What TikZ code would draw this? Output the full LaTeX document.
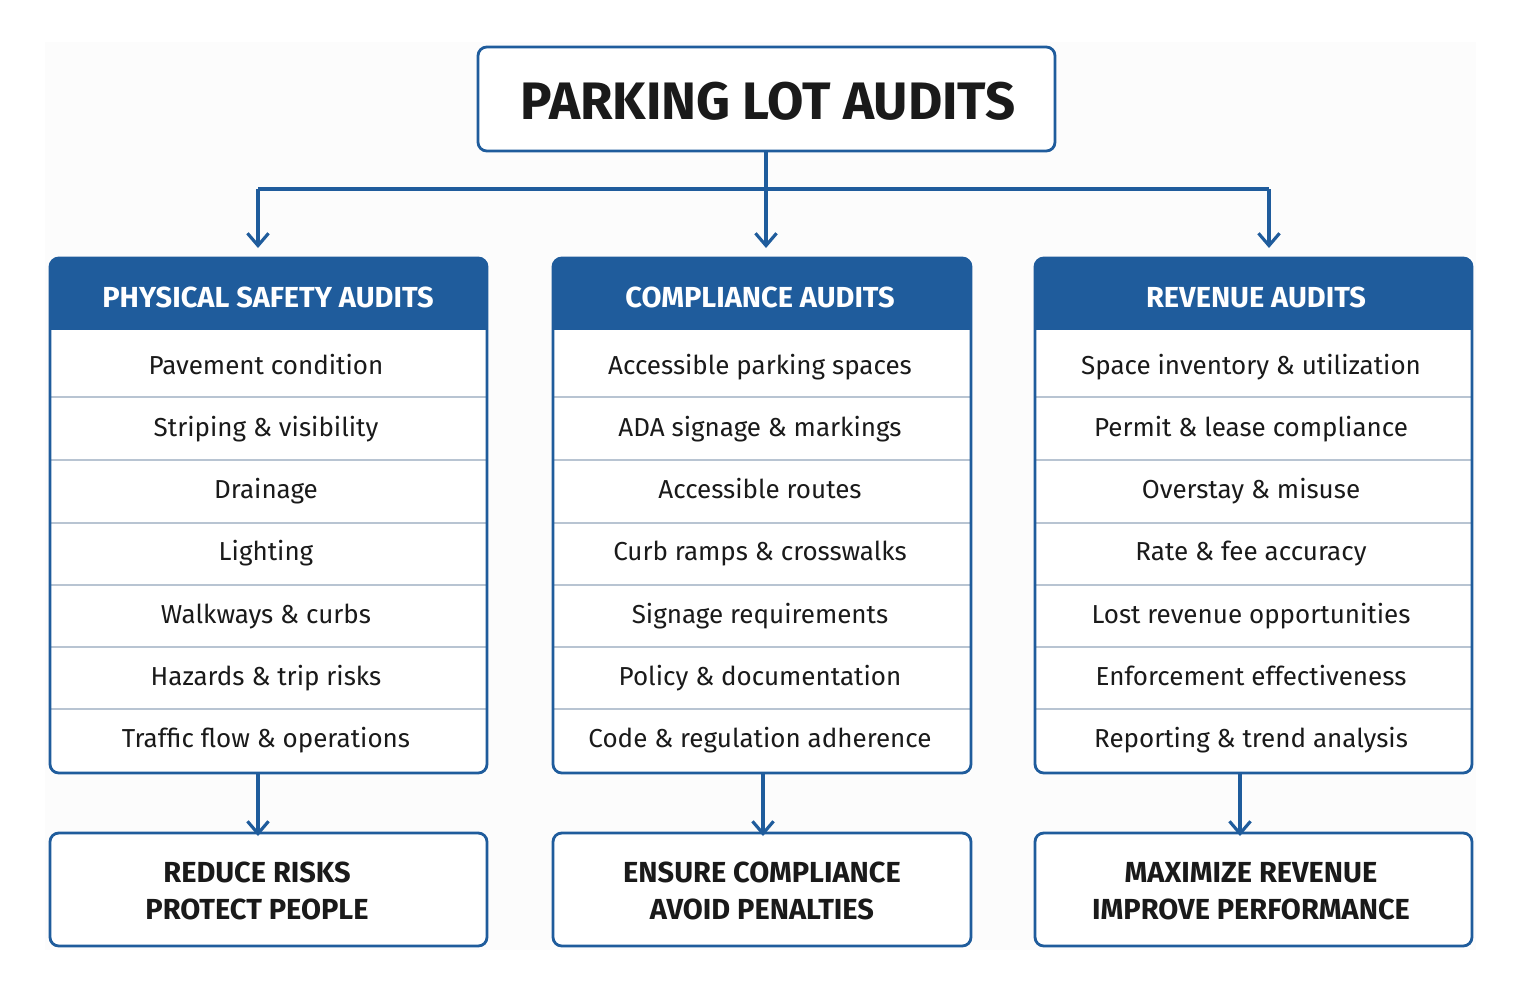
\documentclass[tikz,border=0pt]{standalone}
\usepackage{fontspec}
\setmainfont{Fira Sans}
\usetikzlibrary{arrows.meta,positioning}
\definecolor{auditblue}{HTML}{1F5C9C}
\definecolor{rowline}{HTML}{B8C4D2}
\definecolor{inktext}{HTML}{1A1A1A}
\tikzset{
  box/.style={draw=auditblue, line width=1.6pt, rounded corners=5pt, fill=white},
  head/.style={fill=auditblue, text=white, font=\fontsize{16.5}{20}\selectfont\bfseries, anchor=center},
  item/.style={text=inktext, font=\fontsize{14.8}{18}\selectfont, anchor=center, text height=11pt, text depth=3pt},
  goal/.style={text=inktext, font=\fontsize{16.5}{21}\selectfont\bfseries, align=center, anchor=center},
  link/.style={draw=auditblue, line width=1.8pt, -{Straight Barb[length=7pt,width=12pt,line width=1.8pt]}},
}
\begin{document}
\begin{tikzpicture}[x=0.02cm,y=-0.02cm]
    \useasboundingbox (0,0) rectangle (1521,994);
    \fill[gray!2] (45,42) rectangle (1476,950);

    % Title
    \draw[box] (478,47) rectangle (1055,151);
    \node[text=inktext, font=\fontsize{30}{36}\selectfont\bfseries] (title) at (768,101) {PARKING LOT AUDITS};
    \coordinate (top) at (766,151);
    \coordinate (split) at (766,189);

    % Columns
    \foreach \c/\xa/\xb/\xg in {1/50/487/258, 2/553/971/763, 3/1035/1472/1240} {
        \fill[white] (\xa,258) rectangle (\xb,773);
        \fill[auditblue, rounded corners=5pt] (\xa,258) rectangle (\xb,300);
        \fill[auditblue] (\xa,290) rectangle (\xb,330);
        \foreach \y in {397,460,523,585,647,709}
            \draw[rowline, line width=0.8pt] (\xa,\y) -- (\xb,\y);
        \draw[box, fill=none] (\xa,258) rectangle (\xb,773);
        \coordinate (col\c) at ({(\xa+\xb)/2},258);
        \coordinate (base\c) at (\xg,773);
        \draw[box] (\xa,833) rectangle (\xb,946);
        \coordinate (goal\c) at (\xg,833);
    }

    % Headers
    \node[head] (h1) at (268,297) {PHYSICAL SAFETY AUDITS};
    \node[head] (h2) at (760,297) {COMPLIANCE AUDITS};
    \node[head] (h3) at (1256,297) {REVENUE AUDITS};

    % Items
    \foreach \t [count=\i] in {Pavement condition, Striping \& visibility, Drainage, Lighting,
        Walkways \& curbs, Hazards \& trip risks, Traffic flow \& operations}
        \node[item] (a\i) at (266,{367+62.3*(\i-1)}) {\t};
    \foreach \t [count=\i] in {Accessible parking spaces, ADA signage \& markings, Accessible routes,
        Curb ramps \& crosswalks, Signage requirements, Policy \& documentation, Code \& regulation adherence}
        \node[item] (b\i) at (760,{367+62.3*(\i-1)}) {\t};
    \foreach \t [count=\i] in {Space inventory \& utilization, Permit \& lease compliance, Overstay \& misuse,
        Rate \& fee accuracy, Lost revenue opportunities, Enforcement effectiveness, Reporting \& trend analysis}
        \node[item] (c\i) at (1251,{367+62.3*(\i-1)}) {\t};

    % Outcomes
    \node[goal] (g1) at (257,891) {REDUCE RISKS\\PROTECT PEOPLE};
    \node[goal] (g2) at (762,891) {ENSURE COMPLIANCE\\AVOID PENALTIES};
    \node[goal] (g3) at (1251,891) {MAXIMIZE REVENUE\\IMPROVE PERFORMANCE};

    % Connectors
    \draw[auditblue, line width=1.8pt] (top) -- (split);
    \draw[auditblue, line width=1.8pt] (258,189) -- (1269,189);
    \draw[link] (258,189) -- (258,248);
    \draw[link] (split) -- (766,248);
    \draw[link] (1269,189) -- (1269,248);
    \foreach \c in {1,2,3}
        \draw[link] (base\c) -- ([yshift=-0.06cm]goal\c);
\end{tikzpicture}
\end{document}
